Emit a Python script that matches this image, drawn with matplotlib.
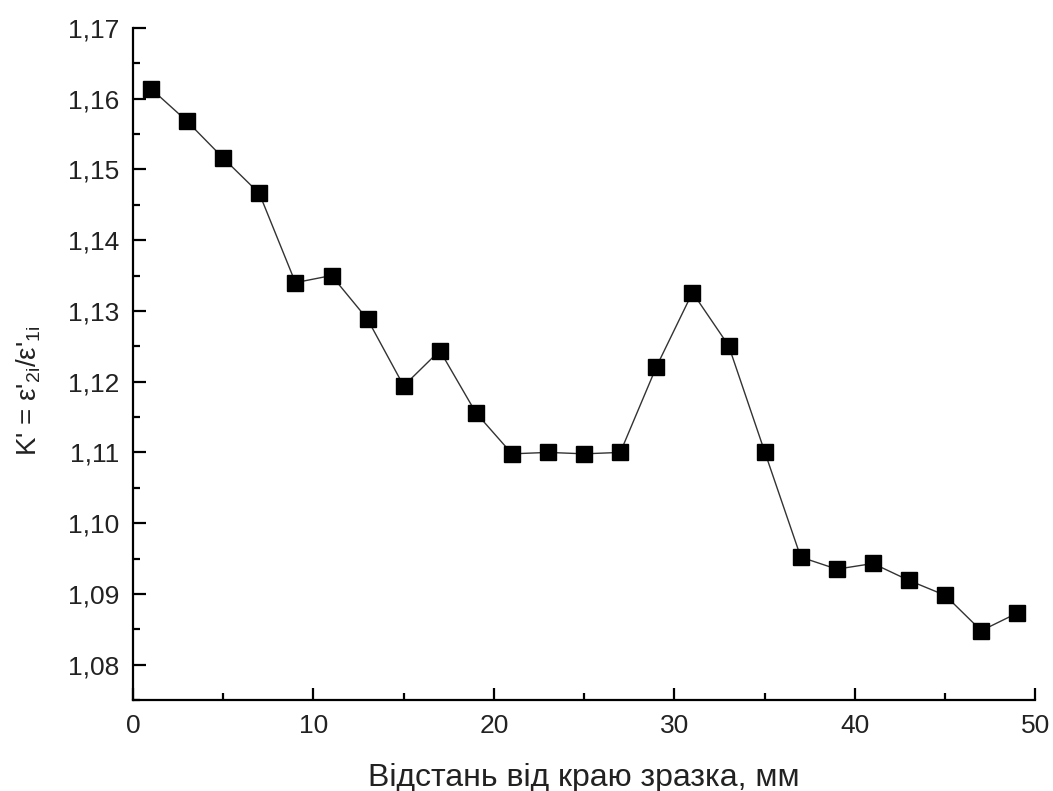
import matplotlib
matplotlib.use("Agg")
import matplotlib.pyplot as plt
from matplotlib.ticker import FuncFormatter, MultipleLocator

plt.rcParams['font.family'] = ['Liberation Sans', 'DejaVu Sans']
plt.rcParams['mathtext.fontset'] = 'custom'
plt.rcParams['mathtext.rm'] = 'Liberation Sans'
plt.rcParams['mathtext.it'] = 'Liberation Sans'
plt.rcParams['xtick.direction'] = 'in'
plt.rcParams['ytick.direction'] = 'in'

# distance from sample edge, mm
distance = [1, 3, 5, 7, 9, 11, 13, 15, 17, 19, 21, 23, 25,
            27, 29, 31, 33, 35, 37, 39, 41, 43, 45, 47, 49]
# K' ratio
k_ratio = [1.1614, 1.1568, 1.1516, 1.1466, 1.1340, 1.1350, 1.1288, 1.1194,
           1.1244, 1.1156, 1.1098, 1.1100, 1.1098, 1.1100, 1.1221, 1.1326,
           1.1251, 1.1101, 1.0952, 1.0935, 1.0943, 1.0919, 1.0898, 1.0848,
           1.0873]

fig = plt.figure(figsize=(10.53, 7.91), dpi=100)
ax = fig.add_axes([0.1263, 0.115, 0.857, 0.8497])

ax.plot(distance, k_ratio, color='#333333', lw=1.0,
        marker='s', markersize=11, markerfacecolor='black',
        markeredgecolor='black')

ax.set_xlim(0, 50)
ax.set_ylim(1.075, 1.17)
ax.xaxis.set_major_locator(MultipleLocator(10))
ax.xaxis.set_minor_locator(MultipleLocator(5))
ax.yaxis.set_major_locator(MultipleLocator(0.01))
ax.yaxis.set_minor_locator(MultipleLocator(0.005))
ax.yaxis.set_major_formatter(FuncFormatter(lambda v, p: f"{v:.2f}".replace('.', ',')))

for s in ['top', 'right']:
    ax.spines[s].set_visible(False)
for s in ['left', 'bottom']:
    ax.spines[s].set_linewidth(1.6)

ax.tick_params(which='major', direction='in', length=9, width=1.6,
               labelsize=19, pad=10, labelcolor='#222222')
ax.tick_params(which='minor', direction='in', length=5, width=1.6)

ax.set_xlabel("Відстань від краю зразка, мм", fontsize=23, color='#222222', labelpad=18)
ax.set_ylabel(r"K' = ε$'_{2i}$/ε$'_{1i}$", fontsize=20, color='#222222')
ax.yaxis.set_label_coords(-0.10, 0.46)

fig.savefig("out.png", dpi=100)
